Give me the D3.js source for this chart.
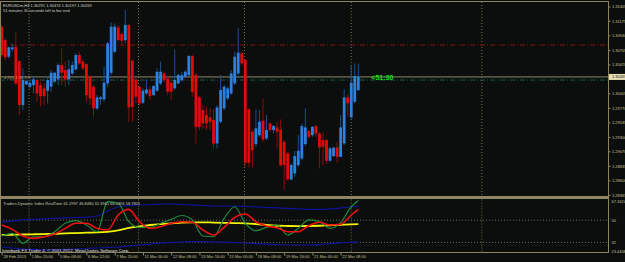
<!DOCTYPE html>
<html><head><meta charset="utf-8">
<script src="https://cdn.jsdelivr.net/npm/d3@7"></script>
<style>html,body{margin:0;padding:0;background:#0b0e0d;overflow:hidden}</style>
</head><body>
<svg id="c" width="625" height="262"></svg>
<script>
// ---------- DATA ----------
const symbolTitle = "EURUSDm,H4  1.30291 1.30474 1.30197 1.30269";
const timerText = "51 minutes 30 seconds left to bar end";
const opens  = [1.31079,1.30864,1.30595,1.30714,1.30757,1.30525,1.29815,1.30149,1.30111,1.30138,1.30219,1.30138,1.30084,1.30046,1.30111,1.30192,1.30229,1.30461,1.30380,1.30229,1.30326,1.30391,1.30622,1.30515,1.30477,1.30272,1.30111,1.29761,1.29912,1.29907,1.30165,1.30337,1.30676,1.31068,1.30961,1.30864,1.31106,1.30531,1.30229,1.30111,1.29853,1.30003,1.30068,1.29976,1.30046,1.30165,1.30326,1.30246,1.30176,1.30084,1.30165,1.30219,1.30272,1.30299,1.30606,1.30299,1.29939,1.29734,1.29654,1.29616,1.29573,1.29196,1.29546,1.29761,1.29923,1.30003,1.30165,1.30326,1.30649,1.30541,1.29745,1.29385,1.29186,1.29331,1.29562,1.29277,1.29519,1.29412,1.29455,1.29422,1.29223,1.29035,1.28615,1.28712,1.28847,1.28954,1.29186,1.29396,1.29331,1.29476,1.29358,1.29250,1.29250,1.28917,1.28992,1.29132,1.28981,1.29196,1.29939,1.29616,1.29869,1.30057];
const highs  = [1.31106,1.30891,1.30757,1.30810,1.30999,1.30541,1.30407,1.30219,1.30203,1.30283,1.30235,1.30192,1.30165,1.30272,1.30380,1.30353,1.30488,1.30730,1.30515,1.30541,1.30515,1.30649,1.30676,1.30552,1.30488,1.30299,1.30138,1.29976,1.29960,1.30434,1.30837,1.31144,1.31133,1.31106,1.30999,1.31349,1.31122,1.30552,1.30262,1.30138,1.30084,1.30229,1.30111,1.30138,1.30407,1.30515,1.30353,1.30272,1.30192,1.30714,1.30326,1.30353,1.30380,1.30622,1.30622,1.30326,1.29960,1.29815,1.29788,1.29761,1.29745,1.29815,1.30299,1.30138,1.30111,1.30380,1.30676,1.31053,1.30676,1.30552,1.29761,1.29422,1.29745,1.29734,1.29923,1.29654,1.29530,1.29492,1.29546,1.29584,1.29250,1.29062,1.28874,1.29073,1.29331,1.29519,1.29761,1.29412,1.29476,1.29492,1.29385,1.29385,1.29277,1.29143,1.29143,1.29223,1.29654,1.30068,1.30003,1.30461,1.30488,1.30474];
const lows   = [1.30595,1.30541,1.30568,1.30676,1.30138,1.29654,1.29734,1.30138,1.30084,1.30003,1.29869,1.29799,1.29815,1.29842,1.30030,1.30165,1.30138,1.30138,1.30111,1.30138,1.30299,1.30369,1.30461,1.30380,1.29869,1.29815,1.29627,1.29734,1.29815,1.29869,1.30111,1.30299,1.30649,1.30837,1.30784,1.30810,1.29546,1.29546,1.29842,1.29815,1.29831,1.29976,1.29896,1.29960,1.30030,1.30138,1.30192,1.29976,1.29896,1.30057,1.30154,1.30192,1.30246,1.30283,1.29950,1.29196,1.29412,1.29439,1.29412,1.29412,1.29116,1.29116,1.29519,1.29734,1.29896,1.29976,1.30138,1.30299,1.30461,1.28820,1.28820,1.28820,1.29143,1.29304,1.29223,1.29250,1.29385,1.29358,1.29116,1.28820,1.28443,1.28605,1.28605,1.28658,1.28820,1.28927,1.29154,1.29277,1.29304,1.29304,1.28793,1.28847,1.28874,1.28900,1.28981,1.28884,1.28970,1.29170,1.29627,1.29600,1.29842,1.30046];
const closes = [1.30622,1.30584,1.30746,1.30746,1.30165,1.29815,1.30219,1.30203,1.30176,1.30229,1.30003,1.29960,1.29960,1.30219,1.30337,1.30337,1.30461,1.30337,1.30229,1.30391,1.30461,1.30622,1.30488,1.30407,1.29976,1.29923,1.29761,1.29939,1.29939,1.30176,1.30810,1.31079,1.31079,1.30864,1.30853,1.31106,1.29778,1.29788,1.29950,1.29842,1.30046,1.30068,1.29960,1.30122,1.30353,1.30353,1.30219,1.30030,1.30030,1.30219,1.30299,1.30299,1.30353,1.30606,1.30030,1.29465,1.29465,1.29519,1.29519,1.29546,1.29196,1.29777,1.30057,1.30111,1.30084,1.30326,1.30595,1.30660,1.30488,1.28884,1.28884,1.29089,1.29439,1.29546,1.29261,1.29412,1.29412,1.29476,1.29385,1.28847,1.28847,1.28615,1.28847,1.28992,1.29078,1.29476,1.29455,1.29304,1.29465,1.29358,1.29132,1.29143,1.28917,1.29116,1.29127,1.28981,1.29455,1.29939,1.29842,1.30176,1.30283,1.30269];

// 1.30235 grid label is hidden behind the bid box in the reference
const priceTicks = [1.31405,1.31175,1.30940,1.30705,1.30470,1.30005,1.29770,1.29535,1.29300,1.29070,1.28835,1.28600,1.28365];
const bidPrice = 1.30269;
const redLevel = 1.30784;
const tealLevel = 1.30219;
const countdownText = "<51:30";
const tradeTag = "4 2(0) 1.30 1.3";

const timeLabelBars = [0,8,16,24,32,40,48,56,64,72,80,88,96];
const timeLabels = ["28 Feb 2013","1 Mar 20:00","5 Mar 08:00","6 Mar 12:00","7 Mar 20:00","11 Mar 00:00","12 Mar 08:00","13 Mar 16:00","15 Mar 00:00","18 Mar 08:00","19 Mar 16:00","21 Mar 00:00","22 Mar 08:00"];
const separatorBars = [7.75,38.75,68.75,99,136];

// Traders Dynamic Index (sampled bars)
const tdiTitle = "Traders Dynamic Index RealTime 61.2997 46.8480 32.3961 66.0494 58.7801";
const tdiBars   = [0,3,6,9,12,15,18,21,24,27,30,33,36,39,42,45,48,51,54,57,60,63,66,69,72,75,78,81,84,87,90,93,96,99,101];
const rsiLine   = [37.2,39.4,31.3,36.6,36.6,40.7,47.5,49.6,46.1,40.7,65.0,63.7,48.8,44.2,44.2,47.5,50.7,53.8,50.2,37.2,36.6,51.5,60.9,47.5,41.5,44.2,46.1,38.0,43.4,50.2,48.8,43.4,48.0,60.9,66.0];
const signalLine= [46.1,42.6,37.2,35.3,36.6,38.8,43.4,47.5,47.5,43.4,42.1,54.2,58.8,48.8,43.4,44.7,47.5,48.8,48.3,42.1,38.0,44.2,52.3,55.0,48.8,45.3,43.9,40.7,40.7,45.5,48.3,46.1,46.7,54.2,58.8];
const baseLine  = [38.0,38.2,38.4,38.6,38.8,39.0,39.4,39.6,39.9,40.1,40.6,41.7,43.7,44.9,46.1,46.9,47.5,48.1,48.3,48.3,48.1,47.9,47.7,47.5,46.9,46.1,45.5,45.3,45.2,45.3,45.5,45.9,46.3,46.6,46.85];
const upperBand = [48.5,49.3,50.2,50.6,51.0,51.4,51.8,52.2,52.6,53.4,57.5,60.7,61.9,62.3,62.7,63.1,63.1,62.7,62.3,61.9,61.5,61.5,61.5,61.1,60.7,60.3,59.9,59.5,59.1,58.7,58.7,59.1,59.9,60.7,61.3];
const lowerBand = [28.3,27.5,26.7,26.3,25.9,25.9,26.3,26.7,27.1,27.5,27.9,28.3,29.1,29.9,30.7,31.5,31.9,32.3,32.6,32.6,32.3,32.3,31.9,31.5,31.1,30.7,30.3,29.9,29.9,29.9,30.3,31.1,31.7,32.1,32.4];
const tdiLevels = [50,32];
const tdiRange = [23.4408,67.1624];
const copyright = "Interbank FX Trader 4, \u00A9 2001-2012, MetaQuotes Software Corp.";

// ---------- DRAW ----------
const BG='#0b0e0d', FRAME='#8c845c', LABEL='#cdc196', FONT='"Liberation Sans", Arial, sans-serif';
const svg = d3.select('#c').style('font-family',FONT);
svg.append('rect').attr('width',625).attr('height',262).attr('fill',BG);

const PR = 608.5; // right edge of plot
const x = d3.scaleLinear().domain([0,101]).range([1.7,358.3]);
const y = d3.scaleLinear().domain([1.28365,1.31405]).range([195,6.5]);
const yi = d3.scaleLinear().domain(tdiRange).range([253,199]);

const defs = svg.append('defs');
defs.append('clipPath').attr('id','cm').append('rect').attr('x',1).attr('y',2).attr('width',PR-1).attr('height',194);
defs.append('clipPath').attr('id','ci').append('rect').attr('x',1).attr('y',199.5).attr('width',PR-1).attr('height',52.5);

// separators
[[2,196],[199.5,252.5]].forEach(([a,b])=>{
  svg.append('g').selectAll('line').data(separatorBars).join('line')
    .attr('x1',d=>x(d)).attr('x2',d=>x(d)).attr('y1',a).attr('y2',b)
    .attr('stroke','#7d7350').attr('stroke-width',1).attr('stroke-dasharray','1,2');
});

// horizontal levels in main
const gm = svg.append('g').attr('clip-path','url(#cm)');
gm.append('line').attr('x1',0).attr('x2',PR).attr('y1',y(redLevel)).attr('y2',y(redLevel))
  .attr('stroke','#8a1212').attr('stroke-dasharray','5,2,1,2');
gm.append('line').attr('x1',0).attr('x2',PR).attr('y1',y(tealLevel)).attr('y2',y(tealLevel))
  .attr('stroke','#1b5a48').attr('stroke-dasharray','5,2,1,2');
gm.append('line').attr('x1',0).attr('x2',PR).attr('y1',y(bidPrice)).attr('y2',y(bidPrice))
  .attr('stroke','#8e8a6e').attr('stroke-width',1);

// candles
const candles = opens.map((o,i)=>({i,o,h:highs[i],l:lows[i],c:closes[i]}));
gm.selectAll('line.w').data(candles).join('line').attr('class','w')
  .attr('x1',d=>x(d.i)).attr('x2',d=>x(d.i)).attr('y1',d=>y(d.h)).attr('y2',d=>y(d.l))
  .attr('stroke',d=>d.c>=d.o?'#1d4f8e':'#8e0c0c').attr('stroke-width',1);
gm.selectAll('rect.b').data(candles).join('rect').attr('class','b')
  .attr('x',d=>x(d.i)-1.4).attr('width',2.8)
  .attr('y',d=>y(Math.max(d.o,d.c))).attr('height',d=>Math.max(0.8,Math.abs(y(d.o)-y(d.c))))
  .attr('fill',d=>d.c>=d.o?'#2c80e0':'#e20b0b');

// trade tag and countdown
gm.append('text').attr('x',4).attr('y',y(bidPrice)+1.6).attr('font-size',4).attr('fill','#a89e70').text(tradeTag);
svg.append('text').attr('x',x(101)+13).attr('y',y(bidPrice)+2.6).attr('font-size',7).attr('font-weight','bold')
  .attr('fill','#16e016').text(countdownText);

// header texts
svg.append('text').attr('x',3).attr('y',6.5).attr('font-size',4).attr('fill','#d6d2c2').text(symbolTitle);
svg.append('text').attr('x',3).attr('y',12).attr('font-size',4).attr('fill','#d6d2c2').text(timerText);

// indicator
const gi = svg.append('g').attr('clip-path','url(#ci)');
gi.selectAll('line.lv').data(tdiLevels).join('line').attr('class','lv')
  .attr('x1',0).attr('x2',PR).attr('y1',d=>yi(d)).attr('y2',d=>yi(d))
  .attr('stroke','#6b6857').attr('stroke-dasharray','1,2');
const line = arr => d3.line().x((d,k)=>x(tdiBars[k])).y(d=>yi(d)).curve(d3.curveMonotoneX)(arr);
gi.append('path').attr('d',line(upperBand)).attr('fill','none').attr('stroke','#12129a').attr('stroke-width',1.2);
gi.append('path').attr('d',line(lowerBand)).attr('fill','none').attr('stroke','#12129a').attr('stroke-width',1.2);
gi.append('path').attr('d',line(baseLine)).attr('fill','none').attr('stroke','#f2f20a').attr('stroke-width',1.8);
gi.append('path').attr('d',line(rsiLine)).attr('fill','none').attr('stroke','#1e8a3c').attr('stroke-width',1.2);
gi.append('path').attr('d',line(signalLine)).attr('fill','none').attr('stroke','#f01010').attr('stroke-width',1.6);
svg.append('text').attr('x',3).attr('y',205).attr('font-size',4).attr('fill','#c9c9bc').text(tdiTitle);
svg.append('text').attr('x',2).attr('y',251.5).attr('font-size',4.4).attr('fill','#e4e4e4').text(copyright);

// frames
const fr = svg.append('g').attr('stroke',FRAME).attr('fill','none');
fr.append('line').attr('x1',0).attr('x2',PR).attr('y1',1.5).attr('y2',1.5);
fr.append('line').attr('x1',0.5).attr('x2',0.5).attr('y1',1).attr('y2',253);
fr.append('line').attr('x1',PR).attr('x2',PR).attr('y1',1).attr('y2',253);
svg.append('rect').attr('x',0).attr('y',196).attr('width',PR+0.5).attr('height',3).attr('fill','#8d8660');
fr.append('line').attr('x1',0).attr('x2',PR).attr('y1',252.5).attr('y2',252.5);

// price axis
const ya = svg.append('g').attr('transform',`translate(${PR},0)`)
  .call(d3.axisRight(y).tickValues(priceTicks).tickSize(2).tickPadding(1.5).tickFormat(d=>d.toFixed(5)));
ya.select('.domain').remove();
ya.selectAll('line').attr('stroke',FRAME);
ya.selectAll('text').attr('font-size',4).attr('fill',LABEL).attr('font-family',FONT);
// bid box
svg.append('rect').attr('x',PR+0.5).attr('y',y(bidPrice)-3).attr('width',16).attr('height',6).attr('fill','#e6dfb4');
svg.append('text').attr('x',PR+3.5).attr('y',y(bidPrice)+1.5).attr('font-size',4).attr('fill','#111').text(bidPrice.toFixed(5));

// indicator axis
const iTicks = [tdiRange[1],50,32,tdiRange[0]];
const ia = svg.append('g').attr('transform',`translate(${PR},0)`);
ia.selectAll('text').data(iTicks).join('text')
  .attr('x',3).attr('y',(d,k)=>yi(d)+(k===0?3.5:k===3?-0.5:1.5))
  .attr('font-size',4).attr('fill',LABEL).text(d=>Number.isInteger(d)?d:d.toFixed(4));

// time axis
const xa = svg.append('g').attr('transform','translate(0,252.5)')
  .call(d3.axisBottom(x).tickValues(timeLabelBars).tickSize(3).tickPadding(1).tickFormat((d,k)=>timeLabels[k]));
xa.select('.domain').remove();
xa.selectAll('line').attr('stroke',FRAME);
xa.selectAll('text').attr('font-size',4).attr('fill',LABEL).attr('font-family',FONT)
  .attr('text-anchor','start').attr('dx',1.2).attr('dy','0.3em');
</script>
</body></html>
